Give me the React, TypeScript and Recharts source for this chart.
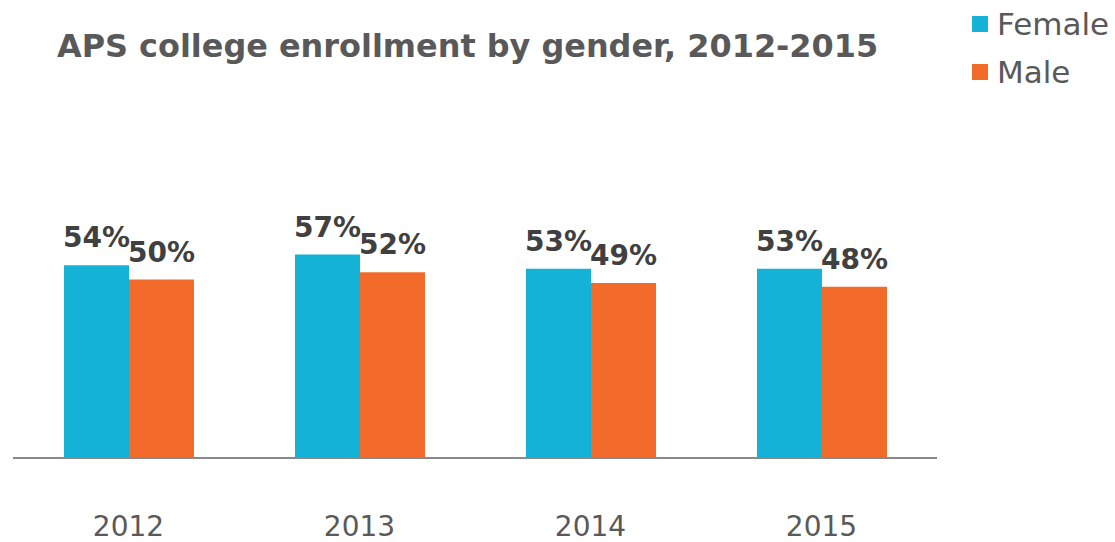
import React from 'react';
import { BarChart, Bar, XAxis, YAxis, LabelList } from 'recharts';

const years = ['2012', '2013', '2014', '2015'];
const female = [54, 57, 53, 53];
const male = [50, 52, 49, 48];
const seriesNames = ['Female', 'Male'];

const data = years.map((y, i) => ({ year: y, Female: female[i], Male: male[i] }));

const FEMALE_COLOR = '#14B2D6';
const MALE_COLOR = '#F26B2B';
const FONT = "'DejaVu Sans', sans-serif";

export default function App() {
  const colors = [FEMALE_COLOR, MALE_COLOR];
  return (
    <div style={{ position: 'absolute', left: 0, top: 0, width: 1115, height: 542, background: '#fff' }}>
      <div
        style={{
          position: 'absolute',
          left: 57,
          top: 27,
          fontFamily: FONT,
          fontWeight: 'bold',
          fontSize: 31.9,
          color: '#595959',
          whiteSpace: 'nowrap',
        }}
      >
        APS college enrollment by gender, 2012-2015
      </div>
      <div style={{ position: 'absolute', left: 972, top: 0, fontFamily: FONT, fontSize: 31, color: '#595959' }}>
        {seriesNames.map((name, i) => (
          <div key={name} style={{ display: 'flex', alignItems: 'center', height: 48 }}>
            <span style={{ display: 'inline-block', width: 16, height: 16, background: colors[i], marginRight: 9 }} />
            <span>{name}</span>
          </div>
        ))}
      </div>
      <BarChart
        width={1115}
        height={542}
        data={data}
        margin={{ top: 101, right: 178, bottom: 0, left: 13 }}
        barCategoryGap={51}
        barGap={0}
      >
        <XAxis
          dataKey="year"
          axisLine={{ stroke: '#898989', strokeWidth: 2 }}
          tickLine={false}
          height={84}
          tick={{ fill: '#595959', fontSize: 28, fontFamily: FONT }}
          tickMargin={52}
        />
        <YAxis hide domain={[0, 100]} />
        <Bar dataKey="Female" fill={FEMALE_COLOR} isAnimationActive={false}>
          <LabelList
            dataKey="Female"
            position="top"
            offset={18}
            formatter={(v: number) => `${v}%`}
            style={{ fill: '#404040', fontSize: 28, fontWeight: 'bold', fontFamily: FONT }}
          />
        </Bar>
        <Bar dataKey="Male" fill={MALE_COLOR} isAnimationActive={false}>
          <LabelList
            dataKey="Male"
            position="top"
            offset={18}
            formatter={(v: number) => `${v}%`}
            style={{ fill: '#404040', fontSize: 28, fontWeight: 'bold', fontFamily: FONT }}
          />
        </Bar>
      </BarChart>
    </div>
  );
}
